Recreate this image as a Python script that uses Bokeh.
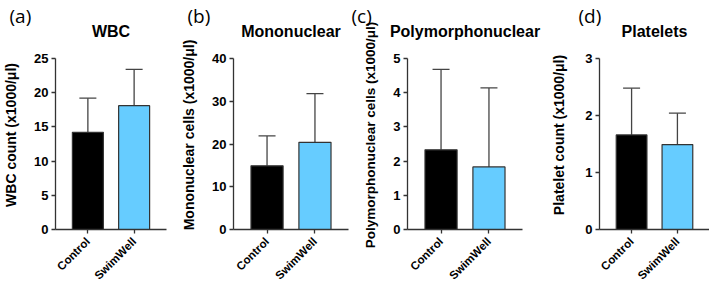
import math
from bokeh.plotting import figure
from bokeh.layouts import row
from bokeh.models import (ColumnDataSource, FactorRange, Range1d, FixedTicker,
                          Whisker, TeeHead, Title)
from bokeh.embed import file_html
from bokeh.resources import INLINE

groups = ["Control", "SwimWell"]
bar_colors = ["#000000", "#66CCFF"]

panel_tags = ["(a)", "(b)", "(c)", "(d)"]
titles = ["WBC", "Mononuclear", "Polymorphonuclear", "Platelets"]
ylabels = ["WBC count (x1000/\u03bcl)", "Mononuclear cells (x1000/\u03bcl)",
           "Polymorphonuclear cells (x1000/\u03bcl)", "Platelet count (x1000/\u03bcl)"]
ymax = [25, 40, 5, 3]
yticks = [[0, 5, 10, 15, 20, 25], [0, 10, 20, 30, 40], [0, 1, 2, 3, 4, 5], [0, 1, 2, 3]]

wbc_mean = [14.2, 18.1]
wbc_sd = [5.0, 5.3]
mono_mean = [14.9, 20.4]
mono_sd = [7.0, 11.4]
poly_mean = [2.33, 1.83]
poly_sd = [2.35, 2.31]
plt_mean = [1.66, 1.49]
plt_sd = [0.82, 0.55]

means = [wbc_mean, mono_mean, poly_mean, plt_mean]
sds = [wbc_sd, mono_sd, poly_sd, plt_sd]

# layout (pixels)
widths = [178, 172, 198, 161]
lefts = [51, 55, 57, 46]
tag_x = [5, 9, 1, 25]
lab_standoff = [12, 12, 12, 15]
lab_size = ["14px", "14px", "13.5px", "14px"]
FRAME_W = 115
TOP = 40        # top of the plotting frame
AXIS_TOP = 58   # where the y axis ends
ZERO_Y = 229    # where y = 0 lies (x axis)

AX = "#333333"
FONT = "Liberation Sans"

figs = []
for i in range(4):
    src = ColumnDataSource(dict(
        g=groups, m=means[i],
        up=[a + b for a, b in zip(means[i], sds[i])],
        c=bar_colors))
    top_val = ymax[i] * (ZERO_Y - TOP) / (ZERO_Y - AXIS_TOP)
    p = figure(x_range=FactorRange(*groups, range_padding=0.2),
               y_range=Range1d(0, top_val),
               width=widths[i], height=288,
               min_border_left=lefts[i],
               min_border_right=widths[i] - lefts[i] - FRAME_W,
               min_border_top=TOP, min_border_bottom=288 - ZERO_Y,
               output_backend="svg", toolbar_location=None)
    p.vbar(x="g", top="m", width=0.67, source=src, fill_color="c",
           line_color=AX, line_width=1.2)
    w = Whisker(base="g", lower="m", upper="up", source=src, dimension="height",
                line_color="#444444", line_width=1.3,
                lower_head=None,
                upper_head=TeeHead(size=17, line_color="#444444", line_width=1.3))
    p.add_layout(w)

    p.title = None
    # panel title (nearest to the frame)
    p.add_layout(Title(text=titles[i], align="center", text_font=FONT,
                       text_font_style="bold", text_font_size="16px",
                       text_color="#000000", standoff=2), "above")
    # panel tag (a), (b), ... stacked above it
    p.add_layout(Title(text=panel_tags[i], align="left", offset=tag_x[i] - lefts[i],
                       text_font="Open Sans", text_font_style="normal",
                       text_font_size="19px", text_color="#000000",
                       standoff=-18), "above")

    p.xgrid.visible = False
    p.ygrid.visible = False
    p.outline_line_color = None
    p.background_fill_color = "white"
    p.border_fill_color = "white"

    ya = p.yaxis[0]
    ya.ticker = FixedTicker(ticks=yticks[i])
    ya.bounds = (0, ymax[i])
    ya.axis_label = ylabels[i]
    ya.axis_label_text_font = FONT
    ya.axis_label_text_font_style = "bold"
    ya.axis_label_text_font_size = lab_size[i]
    ya.axis_label_text_color = "#000000"
    ya.axis_label_standoff = lab_standoff[i]
    ya.major_label_text_font = FONT
    ya.major_label_text_font_style = "bold"
    ya.major_label_text_font_size = "13px"
    ya.major_label_text_color = "#000000"
    ya.major_label_standoff = 3
    ya.major_tick_in = 0
    ya.major_tick_out = 4
    ya.minor_tick_in = 0
    ya.minor_tick_out = 0
    ya.axis_line_color = AX
    ya.major_tick_line_color = AX
    ya.axis_line_width = 1.3
    ya.major_tick_line_width = 1.3

    xa = p.xaxis[0]
    xa.major_label_orientation = math.pi / 4
    xa.major_label_text_font = FONT
    xa.major_label_text_font_style = "bold"
    xa.major_label_text_font_size = "11.5px"
    xa.major_label_text_color = "#000000"
    xa.major_label_standoff = 6
    xa.major_tick_in = 0
    xa.major_tick_out = 4
    xa.axis_line_color = AX
    xa.major_tick_line_color = AX
    xa.axis_line_width = 1.3
    xa.major_tick_line_width = 1.3
    figs.append(p)

layout = row(*figs, spacing=0)
open("out.html", "w").write(file_html(layout, INLINE))
